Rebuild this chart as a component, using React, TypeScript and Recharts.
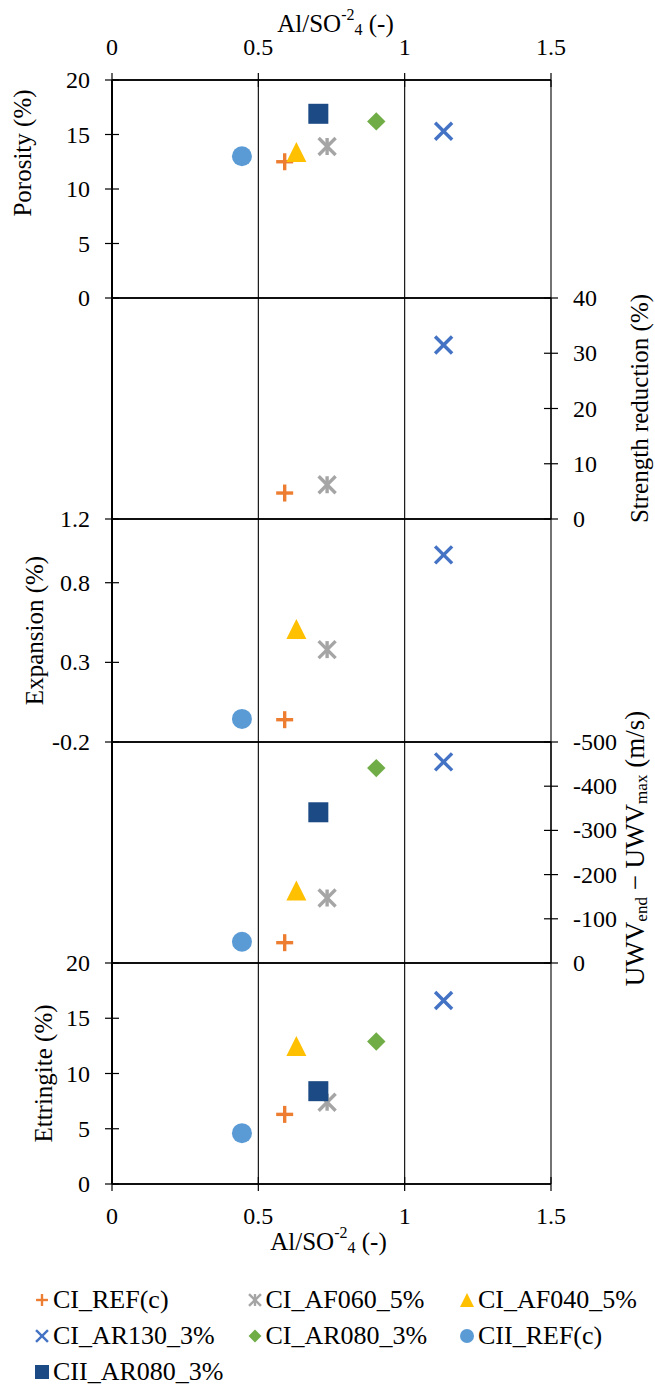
import { ScatterChart, Scatter, XAxis, YAxis, ReferenceLine } from "recharts";

const FONT = "Liberation Serif, Tinos, DejaVu Serif, serif";

// series, in legend order
const seriesNames = ["CI_REF(c)", "CI_AF060_5%", "CI_AF040_5%", "CI_AR130_3%", "CI_AR080_3%", "CII_REF(c)", "CII_AR080_3%"];
const seriesColors = ["#ED7D31", "#A5A5A5", "#FFC000", "#4472C4", "#70AD47", "#5B9BD5", "#1B4A84"];
const seriesShapes = ["plus", "asterisk", "triangle", "cross", "diamond", "circle", "square"];

// Al/SO4 ratio of each mix (shared x)
const alSo4 = [0.59, 0.735, 0.63, 1.133, 0.903, 0.444, 0.705];

// panel values (null = not measured)
const porosity = [12.5, 13.9, 13.4, 15.3, 16.2, 13.0, 16.9];
const strengthReduction = [4.7, 6.2, null, 31.5, null, null, null];
const expansion = [-0.06, 0.38, 0.51, 0.975, null, -0.055, null];
const uwvDiff = [-46, -147, -164, -455, -441, -48, -341];
const ettringite = [6.3, 7.4, 12.5, 16.6, 12.9, 4.6, 8.4];

// tick labels
const xTicks = [0, 0.5, 1, 1.5];
const porosityTicks = [0, 5, 10, 15, 20];
const strengthTicks = [0, 10, 20, 30, 40];
const expansionTicks = [-0.2, 0.3, 0.8, 1.2];
const uwvTicks = [-500, -400, -300, -200, -100, 0];
const ettringiteTicks = [0, 5, 10, 15, 20];

const W = 655;
const PLOT_LEFT = 112;
const PLOT_RIGHT = 551;
const PAD = 40;
const X_AXIS_H = 80;
const TICK_FS = 24;
const TITLE_FS = 25;

type Side = "left" | "right";

type PanelDef = {
  values: (number | null)[];
  ticks: number[];
  side: Side;
  reversed?: boolean;
  top: number;
  bottom: number;
  title: React.ReactNode;
  titleX: number; // page x of title centre
  titleShift?: number;
  titleSize?: number;
};

const panels: PanelDef[] = [
  { values: porosity, ticks: porosityTicks, side: "left", top: 80, bottom: 298, title: "Porosity (%)", titleX: 22, titleShift: -36 },
  { values: strengthReduction, ticks: strengthTicks, side: "right", top: 298, bottom: 519, title: "Strength reduction (%)", titleX: 639 },
  { values: expansion, ticks: expansionTicks, side: "left", top: 519, bottom: 742, title: "Expansion (%)", titleX: 34 },
  {
    values: uwvDiff,
    ticks: uwvTicks,
    side: "right",
    reversed: true,
    top: 742,
    bottom: 963,
    title: (
      <>
        UWV<tspan dy={6} fontSize={17}>end</tspan>
        <tspan dy={-6}> − UWV</tspan>
        <tspan dy={6} fontSize={17}>max</tspan>
        <tspan dy={-6}> (m/s)</tspan>
      </>
    ),
    titleX: 635,
    titleShift: -4,
    titleSize: 27,
  },
  { values: ettringite, ticks: ettringiteTicks, side: "left", top: 963, bottom: 1184, title: "Ettringite (%)", titleX: 43 },
];

function Marker({ kind, color, cx, cy, size }: { kind: string; color: string; cx: number; cy: number; size: number }) {
  const h = size / 2;
  const sw = Math.max(2.2, size * 0.17);
  switch (kind) {
    case "plus": {
      const a = h * 0.85;
      return (
        <g stroke={color} strokeWidth={sw}>
          <line x1={cx - a} x2={cx + a} y1={cy} y2={cy} />
          <line x1={cx} x2={cx} y1={cy - a} y2={cy + a} />
        </g>
      );
    }
    case "cross": {
      const a = h * 0.85;
      return (
        <g stroke={color} strokeWidth={sw}>
          <line x1={cx - a} x2={cx + a} y1={cy - a} y2={cy + a} />
          <line x1={cx - a} x2={cx + a} y1={cy + a} y2={cy - a} />
        </g>
      );
    }
    case "asterisk": {
      const a = h * 0.85;
      return (
        <g stroke={color} strokeWidth={sw}>
          <line x1={cx - a} x2={cx + a} y1={cy - a} y2={cy + a} />
          <line x1={cx - a} x2={cx + a} y1={cy + a} y2={cy - a} />
          <line x1={cx} x2={cx} y1={cy - a} y2={cy + a} />
        </g>
      );
    }
    case "triangle":
      return <polygon points={`${cx},${cy - h} ${cx + h},${cy + h} ${cx - h},${cy + h}`} fill={color} />;
    case "diamond": {
      const a = h * 0.92;
      return <polygon points={`${cx},${cy - a} ${cx + a},${cy} ${cx},${cy + a} ${cx - a},${cy}`} fill={color} />;
    }
    case "circle":
      return <circle cx={cx} cy={cy} r={h} fill={color} />;
    default:
      return <rect x={cx - h} y={cy - h} width={size} height={size} fill={color} />;
  }
}

function fmt(v: number) {
  return String(v);
}

function Panel({ p, index }: { p: PanelDef; index: number }) {
  const first = index === 0;
  const last = index === panels.length - 1;
  const chartTop = first ? 0 : p.top - PAD;
  const marginTop = first ? 0 : PAD;
  const marginBottom = last ? 0 : PAD;
  const height = p.bottom - p.top + (first ? X_AXIS_H : PAD) + (last ? X_AXIS_H : PAD);
  const left = p.side === "left";
  const domain = [p.ticks[0], p.ticks[p.ticks.length - 1]];
  const titleY = (p.top + p.bottom) / 2 + (p.titleShift ?? 0) - chartTop;
  const titleX = p.titleX;

  const xTick = (props: any) => {
    const { x, y, payload } = props;
    const ty = first ? y - 33 : y + 32;
    return (
      <g>
        <line x1={x} x2={x} y1={y - 7} y2={y + 7} stroke="#000" strokeWidth={1.2} />
        <text x={x} y={ty} textAnchor="middle" dominantBaseline="central" fontSize={TICK_FS} style={{ fontFamily: FONT }} fill="#000">
          {fmt(payload.value)}
        </text>
      </g>
    );
  };

  const yTick = (props: any) => {
    const { x, y, payload } = props;
    return (
      <g>
        <line x1={x - 7} x2={x + 7} y1={y} y2={y} stroke="#000" strokeWidth={1.2} />
        <text
          x={left ? x - 22 : x + 22}
          y={y}
          textAnchor={left ? "end" : "start"}
          dominantBaseline="central"
          fontSize={TICK_FS}
          style={{ fontFamily: FONT }}
          fill="#000"
        >
          {fmt(payload.value)}
        </text>
      </g>
    );
  };

  const xTitle = () => (
    <text
      x={(PLOT_LEFT + PLOT_RIGHT) / 2 + (first ? 4 : -3)}
      y={first ? 23 : height - 23}
      textAnchor="middle"
      dominantBaseline="central"
      fontSize={TITLE_FS}
      style={{ fontFamily: FONT }}
      fill="#000"
    >
      Al/SO<tspan dy={-9} fontSize={16}>-2</tspan>
      <tspan dy={15} fontSize={16}>4</tspan>
      <tspan dy={-6}> (-)</tspan>
    </text>
  );

  const yTitle = () => (
    <text
      x={titleX}
      y={titleY}
      transform={`rotate(-90 ${titleX} ${titleY})`}
      textAnchor="middle"
      dominantBaseline="central"
      fontSize={p.titleSize ?? TITLE_FS}
      style={{ fontFamily: FONT }}
      fill="#000"
    >
      {p.title}
    </text>
  );

  return (
    <div style={{ position: "absolute", left: 0, top: chartTop }}>
      <ScatterChart
        width={W}
        height={height}
        margin={{ top: marginTop, bottom: marginBottom, left: left ? 0 : PLOT_LEFT, right: left ? W - PLOT_RIGHT : 0 }}
      >
        <XAxis
          type="number"
          dataKey="x"
          domain={[0, 1.5]}
          ticks={xTicks}
          interval={0}
          hide={!first && !last}
          orientation={first ? "top" : "bottom"}
          height={X_AXIS_H}
          axisLine={{ stroke: "#000", strokeWidth: 1.5 }}
          tickLine={false}
          tickSize={0}
          tickMargin={0}
          tick={xTick}
          label={{ content: xTitle }}
        />
        <YAxis
          type="number"
          dataKey="y"
          domain={domain}
          ticks={p.ticks}
          interval={0}
          orientation={p.side}
          reversed={p.reversed}
          width={left ? PLOT_LEFT : W - PLOT_RIGHT}
          axisLine={{ stroke: "#000", strokeWidth: left ? 2 : 1.2 }}
          tickLine={false}
          tickSize={0}
          tickMargin={0}
          tick={yTick}
          label={{ content: yTitle }}
        />
        {xTicks.map((v) => (
          <ReferenceLine key={"v" + v} x={v} stroke="#000" strokeWidth={v === 0 ? 2 : 1.1} />
        ))}
        {domain.map((v) => (
          <ReferenceLine key={"h" + v} y={v} stroke="#000" strokeWidth={1.5} />
        ))}
        {seriesNames.map((name, i) =>
          p.values[i] == null ? null : (
            <Scatter
              key={name}
              name={name}
              data={[{ x: alSo4[i], y: p.values[i] }]}
              isAnimationActive={false}
              shape={(s: any) => <Marker kind={seriesShapes[i]} color={seriesColors[i]} cx={s.cx} cy={s.cy} size={20} />}
            />
          )
        )}
      </ScatterChart>
    </div>
  );
}

function LegendBlock() {
  return (
    <>
      {seriesNames.map((name, i) => {
        const col = i % 3;
        const row = Math.floor(i / 3);
        return (
          <div
            key={name}
            style={{
              position: "absolute",
              left: 34 + col * 212.5,
              top: 1285 + row * 36,
              height: 30,
              lineHeight: "30px",
              display: "flex",
              alignItems: "center",
              fontFamily: FONT,
              fontSize: 26,
              color: "#000",
              whiteSpace: "nowrap",
            }}
          >
            <svg width={16} height={16} style={{ marginRight: 3 }}>
              <Marker kind={seriesShapes[i]} color={seriesColors[i]} cx={8} cy={8} size={14} />
            </svg>
            {name}
          </div>
        );
      })}
    </>
  );
}

export default function App() {
  return (
    <div style={{ position: "relative", width: W, height: 1386, background: "#fff", overflow: "hidden" }}>
      <style>{"body{margin:0}"}</style>
      {panels.map((p, i) => (
        <Panel key={i} p={p} index={i} />
      ))}
      <LegendBlock />
    </div>
  );
}
